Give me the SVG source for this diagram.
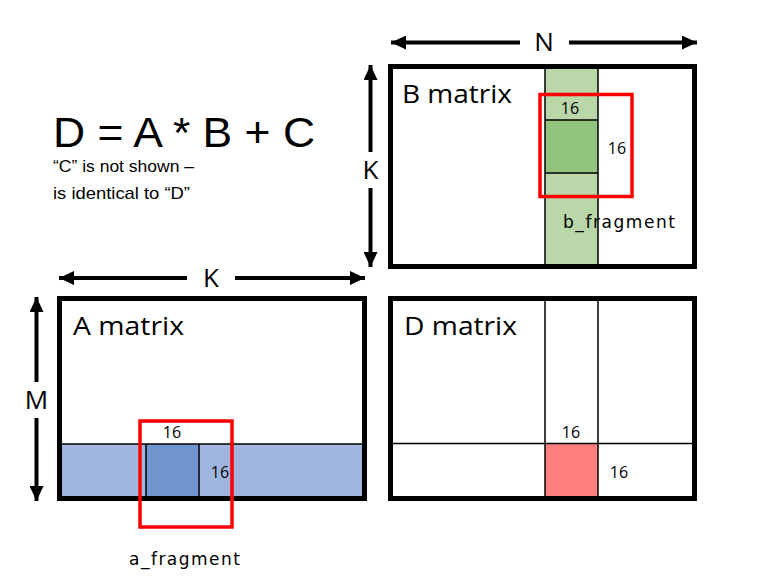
<svg xmlns="http://www.w3.org/2000/svg" width="760" height="583" viewBox="0 0 760 583">
<defs>
<marker id="ah" markerUnits="userSpaceOnUse" markerWidth="16" markerHeight="14" refX="15" refY="7" orient="auto">
<path d="M0,0 L15,7 L0,14 Z" fill="#000"/>
</marker>
<style>
.frame{fill:none;stroke:#000;stroke-width:5}
.thin{stroke:#000;stroke-width:1.5;fill:none}
.red{fill:none;stroke:#f00;stroke-width:3.5}
.arr{stroke:#000;stroke-width:4;fill:none;marker-end:url(#ah)}
.lbl{font-family:"Open Sans","Liberation Sans",sans-serif;fill:#000}
.eq{font-family:"Liberation Sans","Open Sans",sans-serif;fill:#000}
.big{font-size:26px}
.dim{font-size:26px;text-anchor:middle}
.num{font-size:16px;text-anchor:middle}
.frag{font-family:"DejaVu Sans","Liberation Sans",sans-serif;font-size:17px;fill:#000}
</style>
</defs>
<rect width="760" height="583" fill="#fff"/>

<g id="connectors">
<line class="arr" x1="520" y1="42.5" x2="391" y2="42.5"/>
<line class="arr" x1="569" y1="42.5" x2="697" y2="42.5"/>
<line class="arr" x1="187" y1="278" x2="59" y2="278"/>
<line class="arr" x1="235" y1="278" x2="365" y2="278"/>
<line class="arr" x1="370.5" y1="152" x2="370.5" y2="65"/>
<line class="arr" x1="370.5" y1="188" x2="370.5" y2="267"/>
<line class="arr" x1="36.5" y1="382" x2="36.5" y2="297"/>
<line class="arr" x1="36.5" y1="418" x2="36.5" y2="501"/>
</g>

<g id="dimension-labels">
<text class="lbl dim" x="544" y="51">N</text>
<text class="lbl dim" x="211" y="287">K</text>
<text class="lbl dim" x="370.5" y="179">K</text>
<text class="lbl dim" x="36.5" y="409">M</text>
</g>

<g id="equation">
<text class="eq" x="53" y="147" font-size="42" textLength="262" lengthAdjust="spacingAndGlyphs">D = A * B + C</text>
<text class="eq" x="53" y="172" font-size="16.5" textLength="141" lengthAdjust="spacingAndGlyphs">“C” is not shown –</text>
<text class="eq" x="53" y="199" font-size="16.5" textLength="137" lengthAdjust="spacingAndGlyphs">is identical to “D”</text>
</g>

<g id="b-matrix">
<rect x="545" y="68.5" width="53" height="196" fill="#b9d7a8"/>
<rect x="545" y="120" width="53" height="53" fill="#93c47d"/>
<line class="thin" x1="545" y1="68.5" x2="545" y2="264"/>
<line class="thin" x1="598" y1="68.5" x2="598" y2="264"/>
<line class="thin" x1="545" y1="120" x2="598" y2="120"/>
<line class="thin" x1="545" y1="173" x2="598" y2="173"/>
<rect class="frame" x="390.5" y="66.5" width="304" height="200"/>
<text class="lbl big" x="402" y="103" textLength="110" lengthAdjust="spacingAndGlyphs">B matrix</text>
<text class="lbl num" x="570" y="114">16</text>
<text class="lbl num" x="617" y="154">16</text>
<rect class="red" x="540" y="94.5" width="92" height="102"/>
<text class="frag" x="563" y="228" textLength="112">b_fragment</text>
</g>

<g id="a-matrix">
<rect x="61" y="444" width="302" height="53" fill="#a0b6df"/>
<rect x="146" y="444" width="53" height="53" fill="#7094d0"/>
<line class="thin" x1="61" y1="444" x2="363" y2="444"/>
<line class="thin" x1="146" y1="444" x2="146" y2="497"/>
<line class="thin" x1="199" y1="444" x2="199" y2="497"/>
<rect class="frame" x="59.5" y="298.5" width="305" height="200"/>
<text class="lbl big" x="73" y="335" textLength="111" lengthAdjust="spacingAndGlyphs">A matrix</text>
<text class="lbl num" x="172" y="438">16</text>
<text class="lbl num" x="220" y="478">16</text>
<rect class="red" x="140" y="421" width="92" height="106"/>
<text class="frag" x="129" y="565" textLength="111">a_fragment</text>
</g>

<g id="d-matrix">
<rect x="545" y="443.5" width="53" height="54" fill="#ff7f7f"/>
<line class="thin" x1="545" y1="298" x2="545" y2="498"/>
<line class="thin" x1="598" y1="298" x2="598" y2="498"/>
<line class="thin" x1="391" y1="443.5" x2="694" y2="443.5"/>
<rect class="frame" x="390.5" y="298.5" width="304" height="200"/>
<text class="lbl big" x="404" y="335" textLength="113" lengthAdjust="spacingAndGlyphs">D matrix</text>
<text class="lbl num" x="571" y="438">16</text>
<text class="lbl num" x="619" y="478">16</text>
</g>
</svg>
